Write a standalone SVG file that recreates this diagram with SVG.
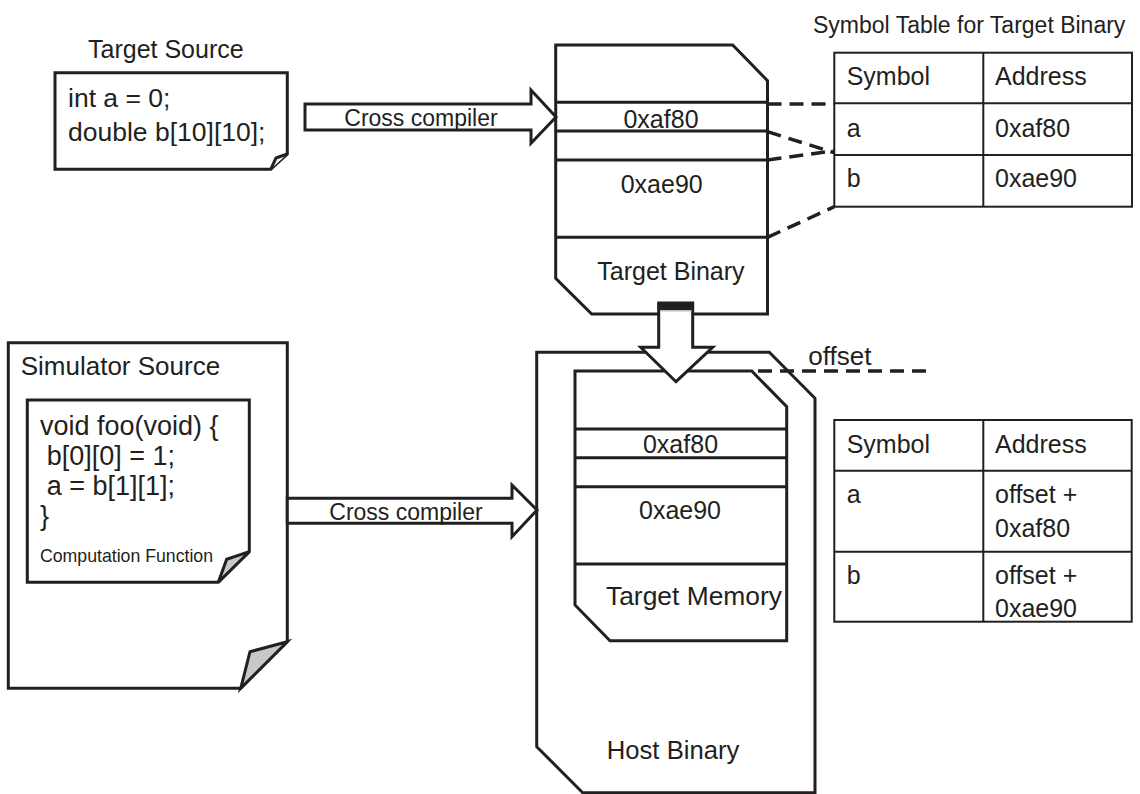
<svg xmlns="http://www.w3.org/2000/svg" width="1140" height="794" viewBox="0 0 1140 794">
<style>
  .shape { fill: #ffffff; stroke: #231f20; stroke-width: 3; stroke-linejoin: miter; }
  .line { fill: none; stroke: #231f20; stroke-width: 3; }
  .tbl { fill: none; stroke: #231f20; stroke-width: 2; }
  .fold { fill: #c8c8c8; stroke: #231f20; stroke-width: 3; stroke-linejoin: miter; }
  .dash { fill: none; stroke: #231f20; stroke-width: 3.5; stroke-dasharray: 14 8; }
  text { font-family: "Liberation Sans", Arial, sans-serif; fill: #231f20; }
  .t25 { font-size: 25px; }
  .t26 { font-size: 26px; }
  .t23 { font-size: 23px; }
  .code { font-size: 27px; }
  .mid { text-anchor: middle; }
</style>
<rect x="0" y="0" width="1140" height="794" fill="#ffffff"/>

<g id="target-source">
  <text class="t25" x="88" y="58">Target Source</text>
  <path class="shape" d="M55,72.7 L287.3,72.7 L287.3,154 L270.7,169.3 L55,169.3 Z"/>
  <path class="shape" d="M287.3,154 L276,158 L270.7,169.3"/>
  <text class="code" x="68" y="107" style="font-size:26.5px">int a = 0;</text>
  <text class="code" x="68" y="141" style="font-size:26.5px">double b[10][10];</text>
</g>

<g id="target-binary">
  <path class="shape" d="M555.7,45 L732.7,45 L767.5,80.7 L767.5,314 L591.7,314 L555.7,278.3 Z"/>
  <line class="line" x1="555.7" y1="102.3" x2="767.5" y2="102.3"/>
  <line class="line" x1="555.7" y1="131" x2="767.5" y2="131"/>
  <line class="line" x1="555.7" y1="160" x2="767.5" y2="160"/>
  <line class="line" x1="555.7" y1="237.3" x2="767.5" y2="237.3"/>
  <text class="t25 mid" x="661" y="127.5">0xaf80</text>
  <text class="t25 mid" x="661.7" y="193.3">0xae90</text>
  <text class="t25" x="597.3" y="280">Target Binary</text>
</g>

<g id="symbol-table-target">
  <text class="t23" x="813" y="33">Symbol Table for Target Binary</text>
  <rect class="tbl" x="834.3" y="52.7" width="297.7" height="154"/>
  <line class="tbl" x1="983.3" y1="52.7" x2="983.3" y2="206.7"/>
  <line class="tbl" x1="834.3" y1="103.3" x2="1132" y2="103.3"/>
  <line class="tbl" x1="834.3" y1="155" x2="1132" y2="155"/>
  <text class="t25" x="846.7" y="85">Symbol</text>
  <text class="t25" x="995" y="85">Address</text>
  <text class="t25" x="846.7" y="136.7">a</text>
  <text class="t25" x="995" y="136.7">0xaf80</text>
  <text class="t25" x="846.7" y="186.7">b</text>
  <text class="t25" x="995" y="186.7">0xae90</text>
</g>

<g id="simulator-source">
  <path class="shape" d="M8.3,342.7 L287.3,342.7 L287.3,641.7 L240.7,688.3 L8.3,688.3 Z"/>
  <path class="fold" d="M287.3,641.7 L250,651.7 L240.7,688.3 Z"/>
  <text class="t26" x="20.7" y="375">Simulator Source</text>
</g>

<g id="computation-function">
  <path class="shape" d="M27.3,400 L249.3,400 L249.3,551.7 L218.3,582.3 L27.3,582.3 Z"/>
  <path class="fold" d="M249.3,551.7 L226.7,559.3 L218.3,582.3 Z"/>
  <text class="code" x="40" y="435">void foo(void) {</text>
  <text class="code" x="46.7" y="465">b[0][0] = 1;</text>
  <text class="code" x="46.7" y="495">a = b[1][1];</text>
  <text class="code" x="40" y="525">}</text>
  <text x="40" y="561.7" style="font-size:17.7px">Computation Function</text>
</g>

<g id="host-binary">
  <path class="shape" d="M536.7,352.3 L769.3,352.3 L815,398.3 L815,792.7 L582.7,792.7 L536.7,746.7 Z"/>
  <text class="t26" x="606.7" y="759.3" style="font-size:25.7px">Host Binary</text>
</g>

<g id="target-memory">
  <path class="shape" d="M575,371 L751.7,371 L786.7,406.7 L786.7,640.7 L610,640.7 L575,605 Z"/>
  <line class="line" x1="575" y1="429" x2="786.7" y2="429"/>
  <line class="line" x1="575" y1="457.7" x2="786.7" y2="457.7"/>
  <line class="line" x1="575" y1="486.7" x2="786.7" y2="486.7"/>
  <line class="line" x1="575" y1="564" x2="786.7" y2="564"/>
  <text class="t25 mid" x="680.5" y="452.7">0xaf80</text>
  <text class="t25 mid" x="680" y="519">0xae90</text>
  <text class="t26" x="606" y="605" style="font-size:26.4px">Target Memory</text>
</g>

<g id="symbol-table-host">
  <rect class="tbl" x="834.3" y="420" width="297.4" height="201.7"/>
  <line class="tbl" x1="983.3" y1="420" x2="983.3" y2="621.7"/>
  <line class="tbl" x1="834.3" y1="470.7" x2="1131.7" y2="470.7"/>
  <line class="tbl" x1="834.3" y1="551.7" x2="1131.7" y2="551.7"/>
  <text class="t25" x="846.7" y="453.3">Symbol</text>
  <text class="t25" x="995" y="453.3">Address</text>
  <text class="t25" x="846.7" y="503">a</text>
  <text class="t25" x="995" y="503">offset +</text>
  <text class="t25" x="995" y="536.7">0xaf80</text>
  <text class="t25" x="846.7" y="584">b</text>
  <text class="t25" x="995" y="584">offset +</text>
  <text class="t25" x="995" y="617">0xae90</text>
</g>

<g id="connectors">
  <path class="shape" d="M305,104 L531,104 L531,90 L556,117 L531,143.3 L531,130 L305,130 Z"/>
  <text class="t23 mid" x="421" y="126">Cross compiler</text>
  <path class="shape" d="M287.3,498.3 L512,498.3 L512,485 L537,510 L512,536.7 L512,523.3 L287.3,523.3 Z"/>
  <text class="t23 mid" x="406" y="520">Cross compiler</text>
  <path class="shape" d="M658.7,303 L692.7,303 L692.7,347.3 L712.7,347.3 L676,381.7 L640.7,347.3 L658.7,347.3 Z"/>
  <rect x="657.5" y="302.5" width="36.5" height="7.5" fill="#231f20"/>
  <line x1="660" y1="310.8" x2="691.5" y2="310.8" stroke="#b0b0b0" stroke-width="1.2"/>
  <line class="dash" x1="767.5" y1="104" x2="834.3" y2="104"/>
  <line class="dash" x1="767.5" y1="131.7" x2="834.3" y2="152.7"/>
  <line class="dash" x1="767.5" y1="160" x2="834.3" y2="150.7"/>
  <line class="dash" x1="767.5" y1="237.3" x2="834.3" y2="206.7"/>
  <line class="dash" x1="758" y1="371" x2="928" y2="371"/>
  <text class="t26" x="808.3" y="365">offset</text>
</g>
</svg>
